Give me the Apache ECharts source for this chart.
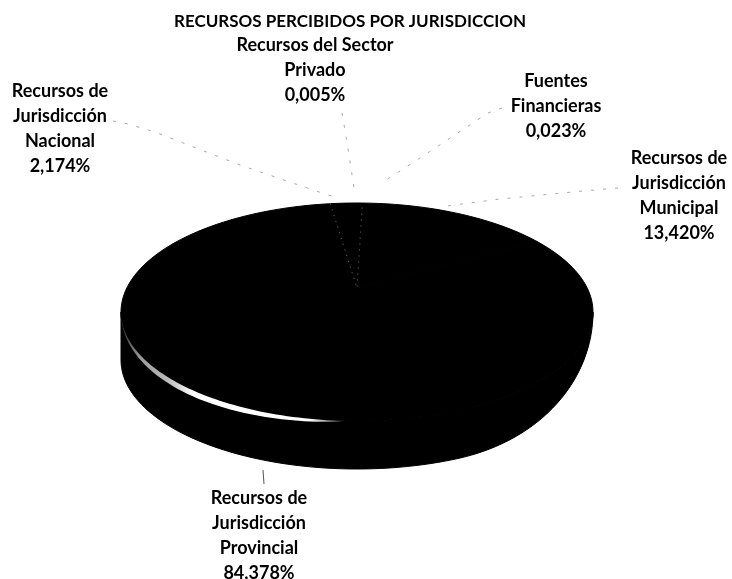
<!DOCTYPE html>
<html>
<head>
<meta charset="utf-8">
<style>
  html, body { margin: 0; padding: 0; background: #fff; }
  #chart { width: 732px; height: 579px; }
</style>
<script src="https://cdn.jsdelivr.net/npm/echarts@6/dist/echarts.min.js"></script>
</head>
<body>
<div id="chart"></div>
<script>
// Data, in clockwise order from the top of the pie
const names = [
  'Recursos de\nJurisdicción\nNacional',
  'Recursos del Sector\nPrivado',
  'Fuentes\nFinancieras',
  'Recursos de\nJurisdicción\nMunicipal',
  'Recursos de\nJurisdicción\nProvincial'
];
const percentLabels = ['2,174%', '0,005%', '0,023%', '13,420%', '84,378%'];
const values = [2.174, 0.005, 0.023, 13.42, 84.378];

// Layout
const cx = 357, cy = 312, rx = 236, ry = 109, depth = 48;
const apexY = 288;
const startAngle = -6.5;
const fontFamily = 'Lato, "Open Sans", sans-serif';
const labelPos = [[60, 79], [315, 33], [556, 69], [679, 146], [259, 486]];
const leaderLines = [
  [[113, 121], [128, 124], [155, 132], [240, 165], [322, 193], [338, 198]],
  [[342, 113], [347, 142], [354, 188]],
  [[502, 108], [488, 113], [423, 156], [403, 169], [386, 180]],
  [[618, 188], [583, 191], [500, 199], [447, 206]],
  [[263, 470], [264, 484]]
];

const total = values.reduce((a, b) => a + b, 0);
let sum = 0;
const sliceAngles = values.map(v => {
  const from = startAngle + sum / total * 360;
  sum += v;
  return [from, startAngle + sum / total * 360];
});

function rimPoint(deg, dy) {
  const t = deg * Math.PI / 180;
  return [cx + rx * Math.sin(t), cy - ry * Math.cos(t) + (dy || 0)];
}

function arcPoints(from, to, dyAt) {
  const pts = [];
  const steps = Math.max(2, Math.ceil(Math.abs(to - from) / 2));
  for (let i = 0; i <= steps; i++) {
    const deg = from + (to - from) * i / steps;
    pts.push(rimPoint(deg, dyAt ? dyAt(deg) : 0));
  }
  return pts;
}

// the wall is seen at a slant, it gets thin towards the right side of the pie
function wallDepth(deg) {
  return depth * Math.sin(Math.min(1, (deg - 90) / 65) * Math.PI / 2);
}

function renderSlice(params, api) {
  const i = params.dataIndex;
  const [from, to] = sliceAngles[i];
  const children = [];

  // side wall, only the front half of the rim shows
  const wallFrom = Math.max(from, 90), wallTo = Math.min(to, 270);
  if (wallTo > wallFrom) {
    children.push({
      type: 'polygon',
      shape: { points: arcPoints(wallFrom, wallTo).concat(arcPoints(wallTo, wallFrom, wallDepth)) },
      style: { fill: '#000', stroke: '#000', lineWidth: 1 }
    });
  }

  // top face
  children.push({
    type: 'polygon',
    shape: { points: [[cx, apexY]].concat(arcPoints(from, to)) },
    style: { fill: '#000', stroke: '#000', lineWidth: 1 }
  });

  return { type: 'group', children: children };
}

function renderNacionalEdges(params, api) {
  const [from, to] = sliceAngles[0];
  return {
    type: 'polyline',
    shape: { points: [rimPoint(from), [cx, apexY], rimPoint(to)] },
    style: { fill: null, stroke: '#777', lineWidth: 1, lineDash: [1, 5] }
  };
}

function renderGlint(params, api) {
  const a = 268, b = 183, steps = 60;
  const rim = [], outer = [];
  for (let k = 0; k <= steps; k++) {
    const deg = a + (b - a) * k / steps;
    rim.push(rimPoint(deg));
    outer.unshift(rimPoint(deg, 6 * Math.pow(Math.sin(Math.PI * k / steps), 0.7)));
  }
  return {
    type: 'polygon',
    shape: { points: rim.concat(outer) },
    style: {
      fill: new echarts.graphic.LinearGradient(122, 0, 350, 0, [
        { offset: 0, color: '#333' },
        { offset: 0.08, color: '#999' },
        { offset: 0.2, color: '#bbb' },
        { offset: 0.32, color: '#fff' },
        { offset: 0.82, color: '#fff' },
        { offset: 1, color: '#222' }
      ], true)
    }
  };
}

function renderLabel(params, api) {
  const i = params.dataIndex;
  // the short provincial leader came out solid on the scan, the others are only specks
  const solid = i === values.length - 1;
  return {
    type: 'group',
    children: [
      {
        type: 'polyline',
        shape: { points: leaderLines[i] },
        style: { fill: null, stroke: solid ? '#555' : '#aaa', lineWidth: 1, lineDash: solid ? null : [3, 9] }
      },
      {
        type: 'text',
        style: {
          x: labelPos[i][0],
          y: labelPos[i][1],
          text: names[i] + '\n' + percentLabels[i],
          align: 'center',
          verticalAlign: 'top',
          fill: '#000',
          font: 'bold 18px ' + fontFamily,
          lineHeight: 25
        }
      }
    ]
  };
}

const chart = echarts.init(document.getElementById('chart'));
chart.setOption({
  backgroundColor: '#fff',
  animation: false,
  title: {
    text: 'RECURSOS PERCIBIDOS POR JURISDICCION',
    left: 345,
    top: 8,
    textAlign: 'center',
    textStyle: { fontFamily: fontFamily, fontWeight: 'bold', fontSize: 17, color: '#000' }
  },
  series: [
    { type: 'custom', coordinateSystem: 'none', silent: true, renderItem: renderSlice, data: values },
    { type: 'custom', coordinateSystem: 'none', silent: true, renderItem: renderNacionalEdges, data: values.slice(0, 1) },
    { type: 'custom', coordinateSystem: 'none', silent: true, renderItem: renderGlint, data: values.slice(4) },
    { type: 'custom', coordinateSystem: 'none', silent: true, renderItem: renderLabel, data: values }
  ]
});
</script>
</body>
</html>
